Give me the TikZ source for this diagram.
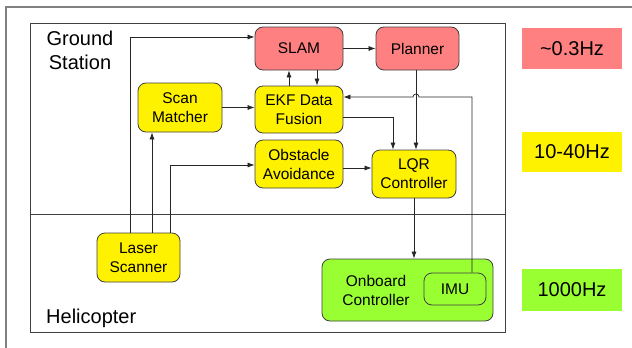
\documentclass[tikz,border=0pt]{standalone}
\usepackage{fontspec}
\setmainfont{Liberation Sans}
\usetikzlibrary{arrows.meta,calc}
\definecolor{salmon}{RGB}{255,128,128}
\definecolor{lgreen}{RGB}{153,255,51}
\definecolor{edge}{RGB}{64,64,64}
\begin{document}
\begin{tikzpicture}[x=1pt,y=-1pt,
  blk/.style={draw=edge,line width=0.8pt,rounded corners=8pt,inner sep=0pt,align=center,
    font=\fontsize{15.5}{19}\selectfont},
  red/.style={blk,fill=salmon},
  yel/.style={blk,fill=yellow},
  grn/.style={blk,fill=lgreen},
  leg/.style={inner sep=0pt,minimum width=100pt,font=\fontsize{20}{24}\selectfont},
  big/.style={inner sep=0pt,align=center,font=\fontsize{20}{24}\selectfont},
  arr/.style={draw=black!85,line width=0.7pt,-{Latex[length=7pt,width=5pt]}}]
\useasboundingbox (0,0) rectangle (632,348);
% frames
\draw[gray,line width=1.3pt] (6,348) -- (6,7) -- (632,7);
\draw[edge,line width=0.9pt] (30,23) rectangle (505,332);
\draw[edge,line width=0.9pt] (30,214) -- (505,214);
\node[big] (gs) at (80,50) {Ground\\Station};
\node[big,anchor=west] (heli) at (46,318) {Helicopter};
% blocks
\node[red,minimum width=88pt,minimum height=43pt] (slam) at (299,48.5) {SLAM};
\node[red,minimum width=83pt,minimum height=43pt] (planner) at (417.5,48.5) {Planner};
\node[yel,minimum width=84pt,minimum height=49pt] (scan) at (180,107.5) {Scan\\Matcher};
\node[yel,minimum width=88pt,minimum height=47pt] (ekf) at (299,109.5) {EKF Data\\Fusion};
\node[yel,minimum width=88pt,minimum height=48pt] (obst) at (299,164) {Obstacle\\Avoidance};
\node[yel,minimum width=84pt,minimum height=48pt] (lqr) at (414,174) {LQR\\Controller};
\node[yel,minimum width=83pt,minimum height=49pt] (laser) at (138.5,257.5) {Laser\\Scanner};
\node[grn,minimum width=171pt,minimum height=62pt] (onboard) at (407.5,290) {};
\node[inner sep=0pt,align=center,font=\fontsize{15.5}{19}\selectfont] (obtext) at (376,290) {Onboard\\Controller};
\node[blk,minimum width=62pt,minimum height=32pt] (imu) at (455,289) {IMU};
% legend
\node[leg,fill=salmon,minimum height=41pt] (l1) at (572,48.5) {\textasciitilde 0.3Hz};
\node[leg,fill=yellow,minimum height=40pt] (l2) at (572,152) {10-40Hz};
\node[leg,fill=lgreen,minimum height=42pt] (l3) at (572,290) {1000Hz};
% connectors
\coordinate (la) at ([xshift=-8.5pt]laser.north);
\coordinate (lb) at ([xshift=13.5pt]laser.north);
\coordinate (lc) at ([xshift=31.5pt]laser.north);
\draw[arr] (la) |- ([yshift=11.5pt]slam.west);
\draw[arr] (lb) -- (lb |- scan.south);
\draw[arr] (lc) |- ([yshift=-1pt]obst.west);
\draw[arr] (scan.east) -- (scan.east -| ekf.west);
\coordinate (ea) at ([xshift=-10pt]ekf.north);
\draw[arr] (ea) -- (ea |- slam.south);
\coordinate (sa) at ([xshift=18pt]slam.south);
\draw[arr] (sa) -- (sa |- ekf.north);
\draw[arr] (slam.east) -- (planner.west);
\coordinate (pa) at ([xshift=-1.5pt]planner.south);
\draw[arr] (pa) -- (pa |- lqr.north);
\coordinate (eb) at ([yshift=-7.5pt]ekf.east);
\coordinate (qa) at ([xshift=-21pt]lqr.north);
\draw[arr] (eb) -| (qa);
\coordinate (ia) at ([xshift=17pt]imu.north);
\coordinate (ec) at ([yshift=12.5pt]ekf.east);
\coordinate (hop) at (pa |- ec);
\draw[arr] (ia) |- ([xshift=3pt]hop) arc[start angle=0,end angle=180,radius=3pt] -- (ec);
\coordinate (oa) at ([yshift=-4pt]obst.east);
\draw[arr] (oa) -- (oa -| lqr.west);
\draw[arr] (lqr.south) -- (lqr.south |- onboard.north);
\end{tikzpicture}
\end{document}
